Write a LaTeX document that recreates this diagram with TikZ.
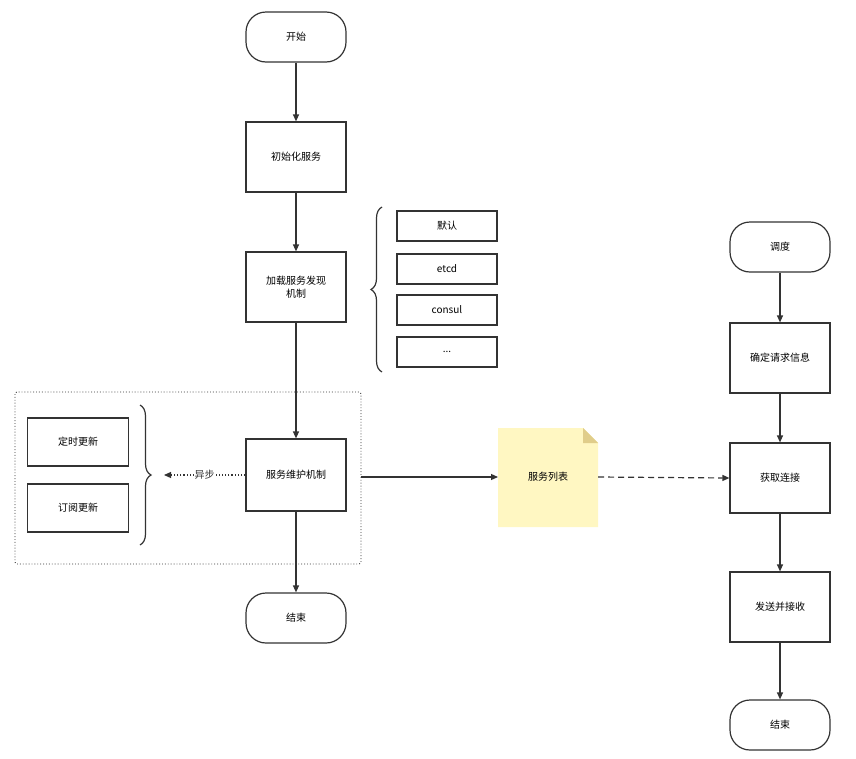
\documentclass[tikz,border=0pt]{standalone}
\usepackage{fontspec}
\setmainfont{Noto Sans CJK SC}
\usetikzlibrary{arrows.meta,decorations.pathreplacing}
\definecolor{linegray}{HTML}{333333}
\definecolor{notefill}{HTML}{FFF7C2}
\definecolor{notefold}{HTML}{E0CD8A}
\tikzset{
  box/.style={draw=linegray,line width=1.2pt,minimum width=100pt,minimum height=70pt,align=center,font=\fontsize{10}{13}\selectfont},
  term/.style={box,rounded corners=20pt,minimum height=50pt},
  opt/.style={draw=linegray,line width=1.2pt,minimum width=100pt,minimum height=30pt,font=\fontsize{10}{13}\selectfont},
  sub/.style={draw=linegray,line width=1.2pt,minimum width=101pt,minimum height=48pt,font=\fontsize{10}{13}\selectfont},
  flow/.style={draw=linegray,line width=1.2pt,-{Triangle[length=7pt,width=6pt]}},
  curly/.style={draw=linegray,line width=1.2pt,decorate,decoration={brace,amplitude=11pt}}
}
\begin{document}
\begin{tikzpicture}[x=1pt,y=-1pt]
    \useasboundingbox (0,0) rectangle (856,758);
    % left column
    \node[term] (start) at (296,37) {开始};
    \node[box] (init) at (296,157) {初始化服务};
    \node[box] (load) at (296,287) {加载服务发现\\机制};
    \node[box,minimum height=72pt] (keep) at (296,475) {服务维护机制};
    \node[term] (stop) at (296,618) {结束};
    \draw[flow] (start) -- (init);
    \draw[flow] (init) -- (load);
    \draw[flow] (load) -- (keep);
    \draw[flow] (keep) -- (stop);
    % discovery options
    \node[opt] (dflt) at (447,226) {默认};
    \node[opt] (etcd) at (447,269) {etcd};
    \node[opt] (consul) at (447,310) {consul};
    \node[opt] (more) at (447,352) {...};
    \draw[curly] (382,372) -- (382,207);
    % maintenance
    \draw[linegray,line width=0.9pt,dotted,rounded corners=2pt] (15,392) rectangle (361,564);
    \node[sub] (timer) at (78,442) {定时更新};
    \node[sub] (watch) at (78,508) {订阅更新};
    \draw[curly] (140,405) -- (140,545);
    \coordinate (tip) at (164,475);
    \draw[linegray,line width=1.2pt,dotted,-{Triangle[length=7pt,width=6pt]}] (keep.west) -- (tip)
      node[midway,fill=white,inner sep=1pt,font=\fontsize{10}{13}\selectfont] {异步};
    % service list
    \fill[notefill] (498,428) -- (583,428) -- (598,443) -- (598,527) -- (498,527) -- cycle;
    \fill[notefold] (583,428) -- (598,443) -- (583,443) -- cycle;
    \node[font=\fontsize{10}{13}\selectfont] (list) at (548,477) {服务列表};
    \coordinate (listw) at (498,477);
    \coordinate (liste) at (598,477);
    \draw[flow] (361,477) -- (listw);
    % right column
    \node[term] (sched) at (780,247) {调度};
    \node[box] (req) at (780,358) {确定请求信息};
    \node[box] (conn) at (780,478) {获取连接};
    \node[box] (send) at (780,607) {发送并接收};
    \node[term] (stop2) at (780,725) {结束};
    \draw[flow] (sched) -- (req);
    \draw[flow] (req) -- (conn);
    \draw[flow] (conn) -- (send);
    \draw[flow] (send) -- (stop2);
    \draw[flow,dashed,dash pattern=on 6pt off 4pt] (liste) -- (conn.west);
\end{tikzpicture}
\end{document}
